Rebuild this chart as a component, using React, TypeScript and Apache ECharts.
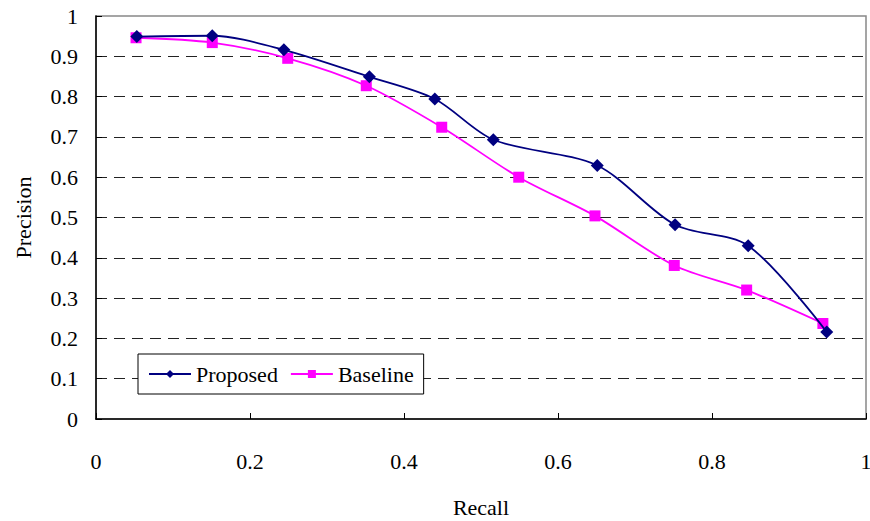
import React, { useEffect, useRef } from "react";
import * as echarts from "echarts";

const recallProposed = [0.053, 0.151, 0.244, 0.355, 0.44, 0.516, 0.651, 0.752, 0.847, 0.949];
const precisionProposed = [0.949, 0.951, 0.916, 0.849, 0.794, 0.693, 0.629, 0.482, 0.43, 0.216];
const recallBaseline = [0.052, 0.151, 0.249, 0.351, 0.449, 0.549, 0.648, 0.751, 0.845, 0.944];
const precisionBaseline = [0.946, 0.934, 0.895, 0.827, 0.724, 0.6, 0.504, 0.381, 0.32, 0.237];
const seriesNames = ["Proposed", "Baseline"];
const axisTitles = { x: "Recall", y: "Precision" };

const FONT = "'Liberation Serif', 'Times New Roman', serif";

export default function App() {
  const ref = useRef<HTMLDivElement>(null);
  useEffect(() => {
    if (!ref.current) return;
    const chart = echarts.init(ref.current, null, { renderer: "svg" });
    const pairs = (xs: number[], ys: number[]) => xs.map((x, i) => [x, ys[i]]);
    chart.setOption({
      animation: false,
      backgroundColor: "#ffffff",
      textStyle: { fontFamily: FONT },
      grid: {
        left: 96,
        right: 4,
        top: 16,
        bottom: 102,
        outerBoundsMode: "none",
        containLabel: false,
        show: true,
        borderColor: "#888888",
        borderWidth: 1.5,
        backgroundColor: "transparent",
      },
      legend: {
        left: 138,
        top: 354,
        orient: "horizontal",
        backgroundColor: "#ffffff",
        borderColor: "#000000",
        borderWidth: 1,
        padding: [9, 10, 9, 10],
        itemGap: 12,
        itemWidth: 42,
        itemHeight: 10,
        textStyle: { fontFamily: FONT, fontSize: 22, color: "#000", padding: [2, 0, 0, 0] },
        data: seriesNames,
      },
      xAxis: {
        type: "value",
        min: 0,
        max: 1,
        interval: 0.2,
        name: axisTitles.x,
        nameLocation: "middle",
        nameGap: 77,
        nameTextStyle: { fontFamily: FONT, fontSize: 22, color: "#000" },
        axisLine: { show: true, lineStyle: { color: "#000", width: 1.5 } },
        axisTick: { show: true, inside: true, length: 6, lineStyle: { color: "#000" } },
        axisLabel: {
          margin: 31,
          fontFamily: FONT,
          fontSize: 22,
          color: "#000",
          formatter: (v: number) => String(Math.round(v * 10) / 10),
        },
        splitLine: { show: false },
      },
      yAxis: {
        type: "value",
        min: 0,
        max: 1,
        interval: 0.1,
        name: axisTitles.y,
        nameLocation: "middle",
        nameGap: 62,
        nameRotate: 90,
        nameTextStyle: { fontFamily: FONT, fontSize: 22, color: "#000" },
        axisLine: { show: true, lineStyle: { color: "#000", width: 1.5 } },
        axisTick: { show: true, inside: true, length: 6, lineStyle: { color: "#000" } },
        axisLabel: {
          margin: 18,
          fontFamily: FONT,
          fontSize: 22,
          color: "#000",
          formatter: (v: number) => String(Math.round(v * 10) / 10),
        },
        splitLine: {
          show: true,
          showMinLine: false,
          showMaxLine: false,
          lineStyle: { color: "#222", width: 1, type: [11, 7] },
        },
      },
      series: [
        {
          name: seriesNames[0],
          type: "line",
          data: pairs(recallProposed, precisionProposed),
          smooth: 0.3,
          symbol: "diamond",
          symbolSize: 13,
          itemStyle: { color: "#000080" },
          lineStyle: { color: "#000080", width: 1.8 },
          z: 3,
        },
        {
          name: seriesNames[1],
          type: "line",
          data: pairs(recallBaseline, precisionBaseline),
          smooth: 0.3,
          symbol: "rect",
          symbolSize: 11,
          itemStyle: { color: "#FF00FF" },
          lineStyle: { color: "#FF00FF", width: 1.8 },
          z: 2,
        },
      ],
    });
    return () => chart.dispose();
  }, []);
  return <div ref={ref} style={{ width: 870, height: 521, position: "absolute", left: 0, top: 0 }} />;
}
